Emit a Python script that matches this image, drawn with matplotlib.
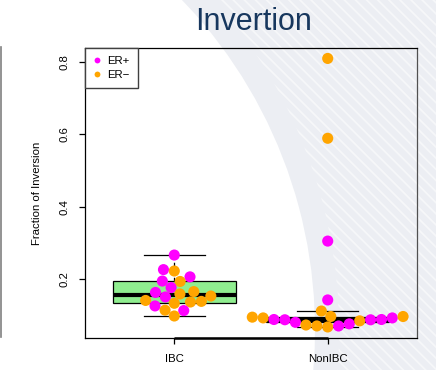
import numpy as np
import matplotlib
matplotlib.use('Agg')
import matplotlib.pyplot as plt
from matplotlib.patches import Wedge
from matplotlib.lines import Line2D
from matplotlib.transforms import IdentityTransform

plt.rcParams['font.family'] = ['Liberation Sans', 'DejaVu Sans']
plt.rcParams['hatch.linewidth'] = 1.3

# ---------------- data ----------------
groups = ['IBC', 'NonIBC']
ibc_values = [0.2662, 0.2259, 0.2221, 0.2059, 0.1943, 0.1932, 0.1763, 0.1628, 0.1586, 0.1651,
              0.1503, 0.1529, 0.1407, 0.1364, 0.1381, 0.1255, 0.1328, 0.1138, 0.1127, 0.0977]
ibc_status = ['ER+', 'ER+', 'ER−', 'ER+', 'ER+', 'ER−', 'ER+', 'ER+', 'ER−', 'ER−',
              'ER+', 'ER−', 'ER−', 'ER−', 'ER−', 'ER+', 'ER−', 'ER−', 'ER+', 'ER−']
nonibc_values = [0.8097, 0.5890, 0.3048, 0.1421, 0.1114, 0.0945, 0.0963, 0.0924, 0.0880, 0.0873,
                 0.0802, 0.0728, 0.0702, 0.0674, 0.0701, 0.0760, 0.0843, 0.0872, 0.0880, 0.0924,
                 0.0963]
nonibc_status = ['ER−', 'ER−', 'ER+', 'ER+', 'ER−', 'ER−', 'ER−', 'ER−', 'ER+', 'ER+',
                 'ER+', 'ER−', 'ER−', 'ER−', 'ER+', 'ER+', 'ER−', 'ER+', 'ER+', 'ER+',
                 'ER−']
status_labels = ['ER+', 'ER−']
status_colors = {'ER+': '#FF00FF', 'ER−': '#FFA500'}
title = 'Invertion'
ylabel = 'Fraction of Inversion'
yticks = [0.2, 0.4, 0.6, 0.8]

# ---------------- figure ----------------
W, H = 436, 370
fig = plt.figure(figsize=(W / 100, H / 100), dpi=100)
fig.patch.set_facecolor('white')

# decorative slide background (light grey curved band with faint diagonal stripes)
cen = (-161, 40)
fig.add_artist(Wedge(cen, 1200, -10, 90, width=1200 - 476, transform=IdentityTransform(),
                     facecolor='#eceef3', edgecolor='none', zorder=-3))
fig.add_artist(Wedge(cen, 1200, -10, 90, width=1200 - 500, transform=IdentityTransform(),
                     facecolor='none', edgecolor='#f6f7f9', linewidth=0, hatch='\\\\\\',
                     zorder=-2))

# left slide line
fig.add_artist(Line2D([0.8, 0.8], [H - 337, H - 47], transform=IdentityTransform(),
                      color='#808080', lw=1.2))

ax_l, ax_b, ax_w, ax_h = 85.3, 32.3, 331.4, 290.0
ax = fig.add_axes([ax_l / W, ax_b / H, ax_w / W, ax_h / H])
ax.set_facecolor('none')

all_vals = np.array(ibc_values + nonibc_values)
rng = all_vals.max() - all_vals.min()
y0, y1 = all_vals.min() - 0.04 * rng, all_vals.max() + 0.04 * rng
x0, x1 = 0.42, 2.58
ax.set_xlim(x0, x1)
ax.set_ylim(y0, y1)


def r_stats(vals):
    v = np.sort(np.asarray(vals))
    n = len(v)
    n4 = int(np.floor((n + 3) / 2)) / 2.0
    d = [1, n4, (n + 1) / 2.0, n + 1 - n4, n]
    f = [0.5 * (v[int(np.floor(x)) - 1] + v[int(np.ceil(x)) - 1]) for x in d]
    q1, q2, q3 = f[1], f[2], f[3]
    iqr = q3 - q1
    lo = v[v >= q1 - 1.5 * iqr].min()
    hi = v[v <= q3 + 1.5 * iqr].max()
    return dict(med=q2, q1=q1, q3=q3, whislo=lo, whishi=hi, fliers=[])


stats = [r_stats(ibc_values), r_stats(nonibc_values)]
ax.bxp(stats, positions=[1, 2], widths=0.8, showfliers=False, patch_artist=True,
       capwidths=0.4,
       boxprops=dict(facecolor='#90EE90', edgecolor='black', linewidth=0.9),
       medianprops=dict(color='black', linewidth=3.0, solid_capstyle='butt'),
       whiskerprops=dict(color='black', linewidth=0.9, linestyle=(0, (3, 3))),
       capprops=dict(color='black', linewidth=0.9), zorder=2)

# beeswarm (swarm method, ascending priority)
unit_px = 10.9
y_scale = ax_h / (y1 - y0)
x_scale = ax_w / (x1 - x0)


def swarm_offsets(values):
    v = np.asarray(values, dtype=float)
    order = np.argsort(v, kind='stable')
    ys = v[order] * y_scale / unit_px
    xs = np.zeros(len(v))
    for i in range(1, len(ys)):
        yi = ys[i]
        near = [j for j in range(i) if yi - ys[j] < 1]
        if not near:
            continue
        near.sort(key=lambda j: abs(xs[j]))
        offs = [np.sqrt(max(0.0, 1 - (yi - ys[j]) ** 2)) for j in near]
        cands = ([0.0] + [xs[j] + o for j, o in zip(near, offs)]
                 + [xs[j] - o for j, o in zip(near, offs)])
        good = [c for c in cands
                if not any((yi - ys[j]) ** 2 + (c - xs[j]) ** 2 < 0.999 for j in near)]
        xs[i] = min(good, key=abs)
    out = np.zeros(len(v))
    out[order] = xs * unit_px / x_scale
    return out


for pos, vals, stat in [(1, ibc_values, ibc_status), (2, nonibc_values, nonibc_status)]:
    offs = swarm_offsets(vals)
    cols = [status_colors[s] for s in stat]
    ax.scatter(pos + offs, vals, s=64, c=cols, edgecolors='none', zorder=3, clip_on=False)

# axes styling
for sp in ax.spines.values():
    sp.set_linewidth(0.9)
    sp.set_color('black')
ax.spines['right'].set_color('#505050')
ax.plot([1, 2], [y0, y0], color='black', lw=1.8, clip_on=False, zorder=4,
        solid_capstyle='butt')

ax.set_xticks([1, 2])
ax.set_xticklabels(groups)
ax.set_yticks(yticks)
ax.set_yticklabels([f'{t:.1f}' for t in yticks])
ax.tick_params(axis='both', direction='out', length=4.5, width=0.9, labelsize=8.2,
               colors='black')
ax.tick_params(axis='x', pad=7.5)
ax.tick_params(axis='y', pad=7)
for lab in ax.get_yticklabels():
    lab.set_rotation(90)
    lab.set_va('center')
    lab.set_ha('right')

fig.text(37 / W, (H - 193) / H, ylabel, rotation=90, ha='center', va='center', fontsize=8.2)

fig.text(254 / W, (H - 30) / H, title, ha='center', va='baseline', fontsize=22,
         color='#17375e')

handles = [Line2D([], [], marker='o', linestyle='none', markersize=4.2,
                  markerfacecolor=status_colors[s], markeredgecolor='none')
           for s in status_labels]
leg = ax.legend(handles, status_labels, loc='upper left', borderaxespad=0, fontsize=8.2,
                frameon=True, fancybox=False, edgecolor='#404040', framealpha=1,
                handlelength=0.6, handletextpad=0.55, borderpad=0.75, labelspacing=0.3)
leg.get_frame().set_linewidth(1.0)

fig.savefig('out.png', dpi=100, facecolor='white')
